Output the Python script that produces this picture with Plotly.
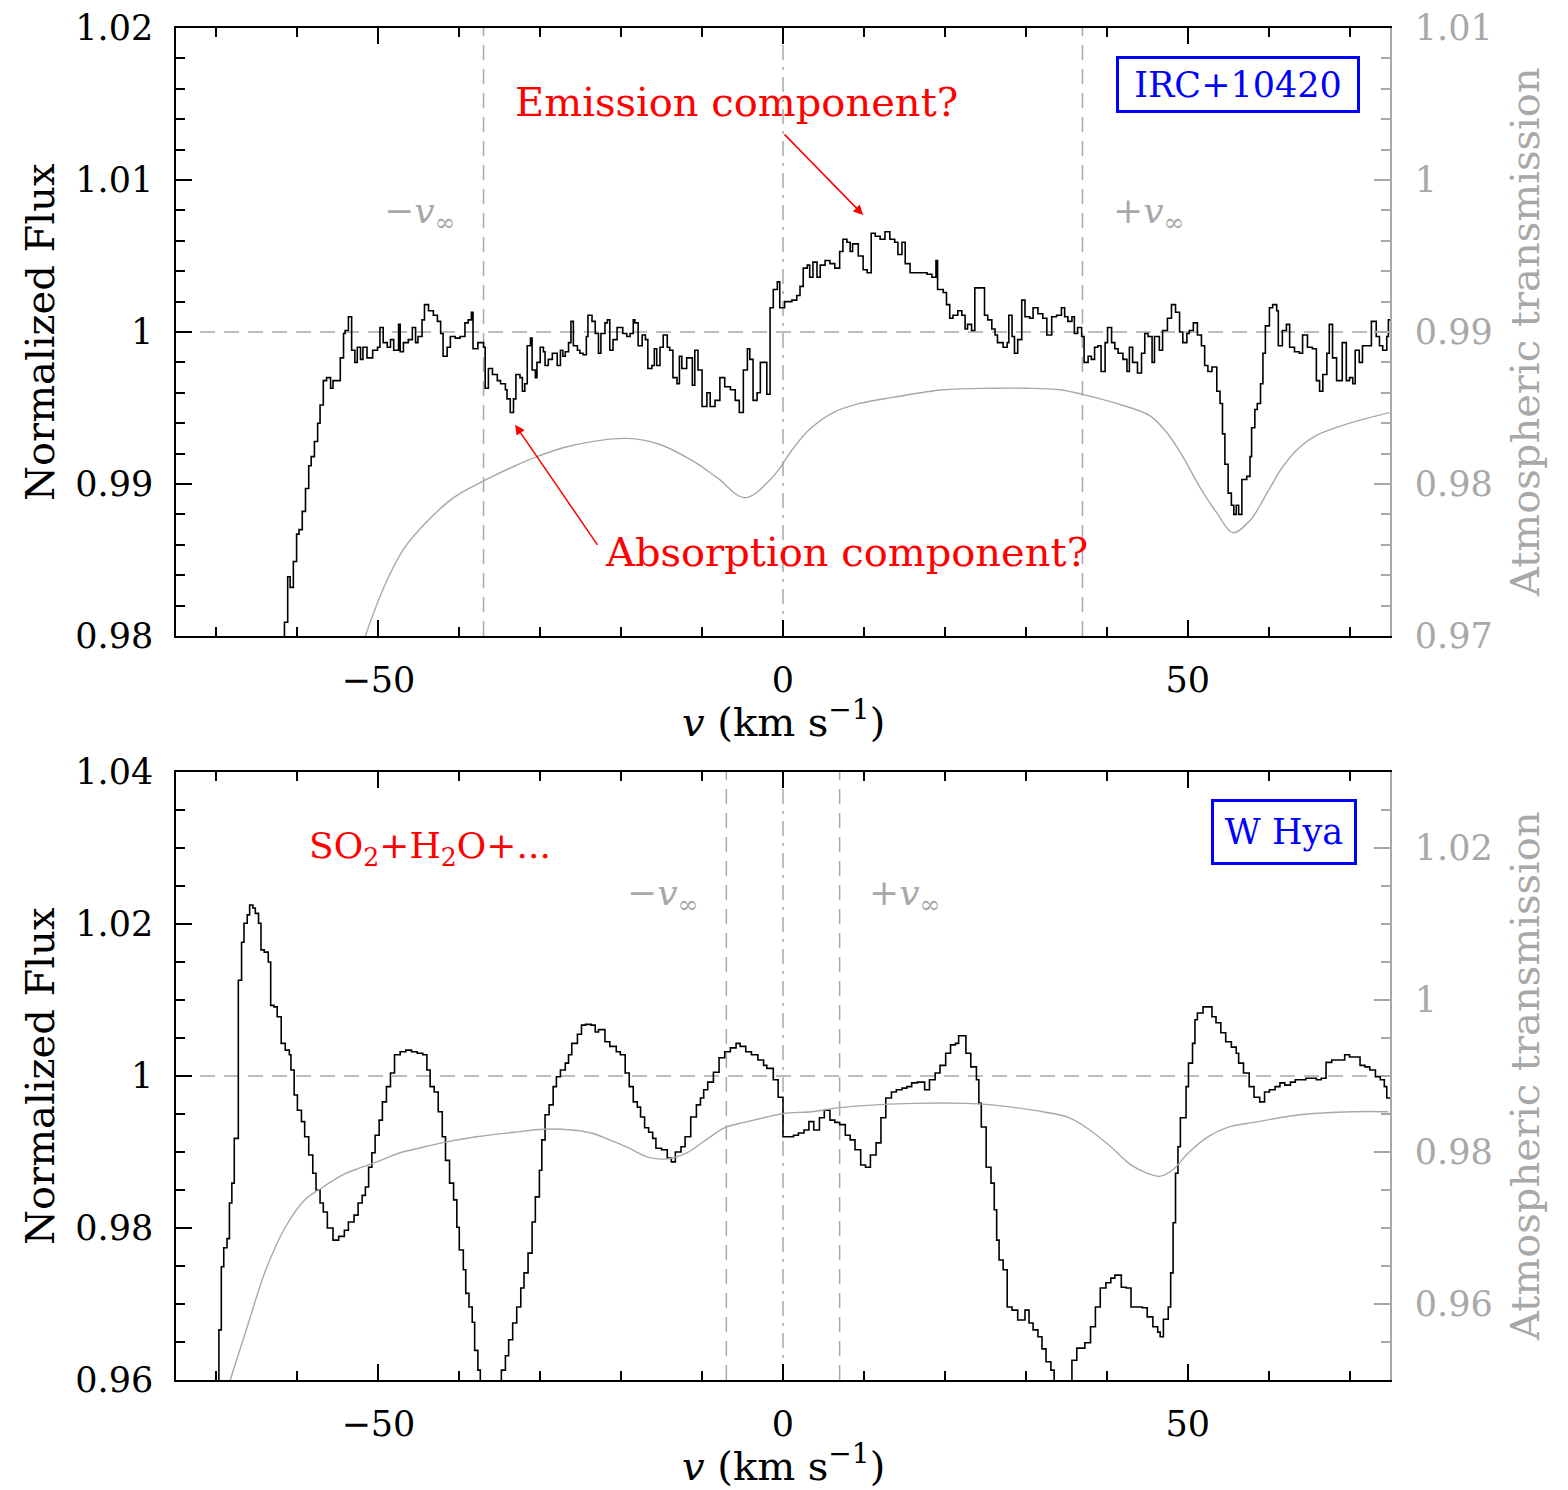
import plotly.graph_objects as go

# ---------------- data ----------------
# IRC+10420 normalized flux (step spectrum)
irc_v = [-62.0,-61.6,-61.2,-60.9,-60.5,-60.1,-59.8,-59.4,-59.0,-58.6,-58.3,-57.9,-57.5,-57.2,-56.8,-56.4,-55.9,-55.6,
         -54.7,-54.3,-54.1,-53.7,-53.3,-52.9,-52.6,-52.2,-51.9,-51.4,-50.7,-50.1,-49.8,-49.4,-48.9,-48.5,-48.1,-47.5,
         -47.3,-46.9,-46.3,-45.8,-45.4,-45.1,-44.6,-44.3,-43.8,-43.2,-42.7,-42.3,-42.0,-41.5,-41.1,-40.5,-39.9,-39.3,
         -38.9,-38.5,-38.3,-37.7,-37.0,-36.8,-36.4,-35.9,-35.3,-34.9,-34.3,-34.1,-33.7,-33.3,-33.0,-32.5,-32.2,-31.9,
         -31.6,-31.2,-31.0,-30.6,-30.4,-30.0,-29.6,-29.4,-29.0,-28.5,-28.1,-27.9,-27.5,-27.2,-26.9,-26.5,-26.2,-25.9,
         -25.4,-25.1,-24.7,-24.3,-24.1,-23.6,-23.2,-22.8,-22.5,-22.0,-21.7,-21.4,-21.0,-20.5,-20.1,-19.8,-19.3,-18.9,
         -18.5,-18.3,-17.9,-17.4,-17.0,-16.7,-16.2,-15.9,-15.6,-15.2,-14.8,-14.3,-14.0,-13.6,-13.1,-12.8,-12.5,-11.9,
         -11.2,-10.9,-10.5,-10.0,-9.4,-9.0,-8.4,-7.8,-7.2,-6.5,-5.9,-5.4,-4.9,-4.4,-4.1,-3.7,-3.2,-2.8,-2.3,-2.0,
         -1.6,-1.2,-0.7,-0.4,0.2,1.1,1.7,2.1,2.5,3.0,3.3,3.7,4.2,4.6,5.2,5.8,6.4,7.0,7.4,7.9,8.3,8.6,9.3,9.9,10.4,
         10.9,11.4,12.0,12.6,13.2,13.8,14.2,14.7,15.1,15.7,16.5,17.2,17.8,18.4,18.9,19.1,19.8,20.2,20.6,21.0,21.6,
         22.1,22.5,22.8,23.3,23.7,24.9,25.3,25.8,26.2,26.5,27.2,27.7,27.9,28.3,28.6,29.0,29.5,29.9,30.5,30.9,31.5,
         32.1,32.6,33.2,33.8,34.4,34.8,35.2,35.7,36.0,36.4,36.9,37.2,37.7,38.1,38.5,38.9,39.3,39.8,40.1,40.6,41.0,
         41.4,42.0,42.5,42.8,43.2,43.8,44.3,44.7,45.1,45.6,45.9,46.5,46.9,47.5,48.0,48.5,49.0,49.4,49.9,50.2,50.7,
         51.2,51.7,52.1,52.5,53.0,53.6,54.0,54.3,54.6,55.0,55.4,55.7,56.0,56.3,56.7,57.3,57.7,57.9,58.3,58.6,59.0,
         59.3,59.6,60.1,60.5,61.0,61.2,61.7,62.2,62.6,63.2,63.8,64.2,64.8,65.4,65.9,66.3,66.7,67.2,67.5,67.9,68.4,
         68.8,69.1,69.6,70.0,70.4,70.7,71.2,71.6,72.2,72.7,73.3,73.7,74.1,74.6,74.8,75.0]
irc_flux = [0.9750,0.9809,0.9839,0.9832,0.9849,0.9867,0.9870,0.9882,0.9897,0.9912,0.9918,0.9928,0.9940,0.9952,0.9968,0.9970,0.9963,0.9968,
            0.9983,0.9999,1.0001,1.0010,0.9988,0.9980,0.9990,0.9982,0.9990,0.9983,0.9988,0.9990,1.0003,0.9993,0.9990,0.9995,0.9988,1.0005,
            0.9987,0.9993,0.9995,1.0003,0.9993,0.9997,1.0008,1.0018,1.0014,1.0011,1.0007,0.9999,0.9984,0.9990,0.9997,0.9996,0.9997,1.0006,
            1.0008,1.0013,0.9989,0.9993,0.9990,0.9963,0.9976,0.9972,0.9968,0.9966,0.9962,0.9956,0.9947,0.9956,0.9972,0.9970,0.9961,0.9966,
            0.9991,0.9996,0.9975,0.9970,0.9980,0.9990,0.9987,0.9978,0.9982,0.9986,0.9986,0.9978,0.9988,0.9984,0.9987,0.9993,1.0007,0.9991,
            0.9988,0.9986,0.9985,0.9997,1.0011,1.0007,0.9999,0.9986,0.9999,1.0006,1.0008,0.9988,0.9995,1.0003,1.0003,0.9999,0.9997,0.9999,
            1.0008,1.0006,0.9991,0.9998,0.9995,0.9976,0.9978,0.9989,0.9978,0.9990,0.9998,0.9990,0.9988,0.9970,0.9966,0.9984,0.9976,0.9983,
            0.9965,0.9988,0.9975,0.9951,0.9960,0.9951,0.9955,0.9970,0.9964,0.9962,0.9955,0.9947,0.9975,0.9989,0.9982,0.9955,0.9960,0.9980,0.9980,0.9959,
            1.0016,1.0028,1.0033,1.0016,1.0020,1.0021,1.0024,1.0030,1.0042,1.0044,1.0036,1.0046,1.0036,1.0044,1.0047,1.0045,1.0042,1.0053,1.0061,1.0059,1.0053,1.0058,1.0050,1.0041,1.0039,
            1.0065,1.0063,1.0061,1.0066,1.0061,1.0059,1.0051,1.0059,1.0045,1.0039,1.0039,1.0039,1.0038,1.0036,1.0047,1.0028,1.0026,1.0018,1.0009,1.0011,1.0014,
            1.0011,1.0002,1.0005,1.0001,1.0029,1.0011,1.0008,1.0002,0.9998,0.9993,0.9990,0.9993,1.0011,0.9997,0.9986,0.9995,1.0021,1.0010,1.0009,1.0016,1.0012,
            1.0009,0.9998,1.0010,1.0011,1.0016,1.0010,1.0007,1.0010,0.9999,1.0003,0.9997,0.9980,0.9984,0.9982,0.9990,0.9991,0.9974,0.9993,1.0003,0.9993,0.9989,
            0.9986,0.9982,0.9974,0.9990,0.9980,0.9973,0.9986,0.9999,0.9997,0.9980,0.9997,0.9988,1.0001,1.0009,1.0018,1.0013,1.0000,0.9993,0.9999,1.0001,1.0006,
            0.9998,0.9991,0.9978,0.9974,0.9977,0.9961,0.9953,0.9933,0.9913,0.9894,0.9886,0.9880,0.9886,0.9880,0.9903,0.9905,0.9918,0.9937,0.9949,0.9953,0.9966,
            0.9986,1.0004,1.0016,1.0018,1.0014,0.9991,1.0001,1.0005,0.9990,0.9987,0.9986,0.9998,0.9990,0.9989,0.9968,0.9961,0.9972,0.9986,1.0005,0.9983,0.9968,
            0.9968,0.9993,0.9968,0.9970,0.9966,0.9988,0.9980,0.9991,0.9991,1.0007,0.9997,0.9991,0.9988,0.9997,1.0008,1.0008]

# IRC+10420 atmospheric transmission
irc_atm_v = [-51.6,-50.6,-48.9,-46.9,-44.4,-40.7,-37.0,-33.5,-30.4,-26.3,-19.3,-15.2,-11.1,-8.1,-4.7,-1.2,1.2,3.3,6.2,9.5,13.6,
             19.8,25.9,30.1,34.2,37.0,41.2,45.3,47.4,49.4,51.5,53.6,55.6,57.7,59.8,61.7,63.8,65.9,70.0,74.9]
irc_atm_t = [0.9700,0.9715,0.9737,0.9757,0.9773,0.9791,0.9802,0.9811,0.9818,0.9825,0.9830,0.9826,0.9815,0.9804,0.9791,0.9805,0.9823,
             0.9836,0.9847,0.9853,0.9857,0.9862,0.9863,0.9863,0.9862,0.9859,0.9853,0.9845,0.9834,0.9818,0.9798,0.9781,
             0.9768,0.9776,0.9794,0.9811,0.9824,0.9832,0.9840,0.9847]

# W Hya normalized flux (step spectrum)
why_v = [-70.1,-69.7,-69.4,-69.1,-68.7,-68.4,-68.1,-67.8,-67.3,-66.9,-66.6,-66.2,-65.9,-65.5,-65.2,-64.8,-64.5,-64.1,
         -63.6,-63.3,-62.9,-62.5,-62.0,-61.5,-61.0,-60.8,-60.4,-60.0,-59.5,-59.1,-58.6,-58.1,-57.7,-57.2,-56.8,-56.3,
         -55.6,-54.9,-54.2,-53.7,-53.0,-52.5,-52.0,-51.6,-51.2,-50.8,-50.4,-49.9,-49.5,-49.0,-48.5,-48.0,-47.3,-46.6,
         -45.9,-45.2,-44.5,-44.0,-43.6,-43.1,-42.6,-42.1,-41.7,-41.2,-40.7,-40.3,-40.0,-39.5,-39.2,-38.8,-38.4,-38.1,
         -37.7,-37.4,-36.8,-36.0,-35.4,-34.8,-34.3,-33.9,-33.4,-32.9,-32.4,-32.0,-31.5,-31.0,-30.6,-30.1,-29.8,-29.4,
         -28.9,-28.4,-28.0,-27.5,-26.9,-26.5,-26.1,-25.4,-24.9,-24.4,-23.7,-23.2,-22.8,-22.0,-21.4,-20.6,-20.1,-19.5,
         -19.0,-18.5,-18.0,-17.6,-17.1,-16.6,-16.1,-15.7,-15.0,-14.3,-13.8,-13.3,-12.6,-12.1,-11.4,-10.7,-10.2,-9.8,
         -9.3,-8.6,-7.9,-7.2,-6.5,-5.8,-5.3,-4.6,-3.9,-3.1,-2.4,-2.0,-1.2,-0.6,0.0,0.6,1.3,1.9,2.6,3.2,3.8,4.5,5.1,
         5.8,6.4,7.0,7.7,8.3,8.9,9.6,10.2,10.8,11.5,12.1,12.7,13.4,14.0,14.7,15.3,15.9,16.6,17.5,18.1,18.8,19.4,20.1,
         20.7,21.3,21.7,22.6,23.2,23.9,24.2,24.5,25.1,25.7,26.1,26.4,26.7,27.2,27.7,28.3,29.0,29.9,30.4,30.9,31.5,32.0,
         32.5,33.1,33.5,34.2,35.0,35.7,36.3,37.3,38.0,38.6,39.2,39.9,40.5,41.0,41.8,42.4,43.0,43.7,44.4,45.0,45.7,46.3,
         46.6,47.0,47.6,47.9,48.2,48.5,48.8,49.1,49.8,50.1,50.6,50.9,51.2,51.9,52.5,53.0,53.5,54.1,54.7,55.4,56.0,56.3,
         56.9,57.6,58.2,58.9,59.5,60.1,60.8,61.4,62.0,62.7,63.3,64.0,64.6,65.2,65.9,66.5,67.1,67.8,68.4,69.4,70.0,70.6,
         71.3,71.9,72.5,73.2,73.8,74.3,74.6,75.0]
why_flux = [0.9550,0.9666,0.9749,0.9774,0.9786,0.9833,0.9859,0.9918,1.0126,1.0176,1.0201,1.0212,1.0225,1.0221,1.0214,1.0201,1.0166,1.0163,
            1.0150,1.0093,1.0091,1.0078,1.0043,1.0034,1.0028,1.0008,0.9975,0.9955,0.9940,0.9920,0.9896,0.9872,0.9850,0.9833,0.9821,0.9800,
            0.9784,0.9789,0.9797,0.9808,0.9817,0.9833,0.9843,0.9854,0.9880,0.9899,0.9922,0.9942,0.9966,0.9986,1.0004,1.0028,1.0032,1.0034,
            1.0032,1.0030,1.0028,1.0008,0.9986,0.9979,0.9953,0.9920,0.9889,0.9859,0.9837,0.9801,0.9771,0.9745,0.9714,0.9696,0.9676,0.9639,
            0.9613,0.9590,0.9570,0.9560,0.9575,0.9613,0.9632,0.9653,0.9675,0.9696,0.9721,0.9741,0.9767,0.9808,0.9841,0.9876,0.9916,0.9949,
            0.9962,0.9986,0.9999,1.0008,1.0017,1.0028,1.0043,1.0055,1.0067,1.0068,1.0067,1.0058,1.0061,1.0045,1.0039,1.0032,1.0028,1.0004,
            0.9986,0.9966,0.9959,0.9946,0.9932,0.9926,0.9918,0.9905,0.9903,0.9892,0.9887,0.9900,0.9907,0.9920,0.9946,0.9962,0.9971,0.9982,
            0.9992,1.0005,1.0024,1.0032,1.0037,1.0043,1.0039,1.0032,1.0028,1.0021,1.0014,1.0010,0.9995,0.9972,0.9920,0.9920,0.9922,0.9925,0.9929,0.9940,0.9929,0.9945,0.9955,
            0.9942,0.9939,0.9936,0.9922,0.9916,0.9903,0.9883,0.9880,0.9896,0.9912,0.9945,0.9971,0.9979,0.9982,0.9984,0.9986,0.9991,0.9992,0.9982,0.9995,1.0004,1.0014,1.0030,
            1.0041,1.0043,1.0053,1.0030,1.0012,0.9995,0.9964,0.9933,0.9880,0.9859,0.9824,0.9784,0.9758,0.9745,0.9696,0.9692,0.9679,0.9692,0.9675,0.9666,0.9657,0.9641,
            0.9624,0.9613,0.9590,0.9575,0.9595,0.9626,0.9642,0.9649,0.9670,0.9696,0.9721,0.9728,0.9734,0.9738,0.9722,0.9721,0.9696,0.9696,0.9695,0.9683,0.9670,0.9663,
            0.9657,0.9680,0.9696,0.9741,0.9807,0.9872,0.9907,0.9945,0.9986,1.0017,1.0043,1.0074,1.0083,1.0091,1.0091,1.0078,1.0070,1.0057,1.0045,1.0038,1.0030,1.0017,
            1.0004,0.9986,0.9972,0.9966,0.9979,0.9982,0.9986,0.9991,0.9988,0.9992,0.9995,0.9995,0.9997,0.9997,0.9995,0.9997,1.0018,1.0021,1.0021,1.0028,1.0025,1.0025,
            1.0014,1.0012,1.0008,0.9999,0.9995,0.9986,0.9971,0.9971]

# W Hya atmospheric transmission
why_atm_v = [-68.3,-66.2,-63.9,-61.5,-59.1,-56.8,-54.4,-52.0,-49.7,-47.3,-45.0,-42.6,-37.9,-33.2,-29.6,-26.1,-23.7,
             -21.4,-19.0,-16.6,-14.3,-11.9,-9.5,-7.2,-4.8,-2.0,0.3,3.5,6.7,9.9,16.2,22.6,25.8,29.0,32.1,35.4,37.9,
             40.5,43.0,45.0,46.5,48.1,50.1,52.5,55.1,58.2,63.9,70.3,74.8]
why_atm_t = [0.9500,0.9570,0.9645,0.9701,0.9737,0.9754,0.9770,0.9780,0.9789,0.9799,0.9805,0.9811,0.9820,0.9826,0.9830,
             0.9829,0.9825,0.9816,0.9805,0.9793,0.9791,0.9799,0.9816,0.9832,0.9839,0.9846,0.9851,0.9853,0.9858,0.9861,
             0.9864,0.9864,0.9862,0.9858,0.9853,0.9845,0.9829,0.9807,0.9783,0.9772,0.9768,0.9776,0.9799,0.9820,0.9833,
             0.9839,0.9849,0.9853,0.9853]

x_ticks = [-50, 0, 50]
x_ticktext = ["\u221250", "0", "50"]
top_left_ticks = [0.98, 0.99, 1.0, 1.01, 1.02]
top_left_text = ["0.98", "0.99", "1", "1.01", "1.02"]
top_right_ticks = [0.97, 0.98, 0.99, 1.0, 1.01]
top_right_text = ["0.97", "0.98", "0.99", "1", "1.01"]
bot_left_ticks = [0.96, 0.98, 1.0, 1.02, 1.04]
bot_left_text = ["0.96", "0.98", "1", "1.02", "1.04"]
bot_right_ticks = [0.96, 0.98, 1.0, 1.02]
bot_right_text = ["0.96", "0.98", "1", "1.02"]
v_inf_irc = 37.0
v_inf_why = 7.0

# ---------------- styling ----------------
FONT = "DejaVu Serif"
GRAY = "#a8a8a8"
TICKSIZE = 35
TITLESIZE = 40

fig = go.Figure()
fig.add_trace(go.Scatter(x=irc_v, y=irc_flux, mode="lines", line=dict(color="black", width=1.6, shape="hv"),
                         xaxis="x", yaxis="y", showlegend=False))
fig.add_trace(go.Scatter(x=irc_atm_v, y=irc_atm_t, mode="lines", line=dict(color=GRAY, width=1.4, shape="spline"),
                         xaxis="x", yaxis="y2", showlegend=False))
fig.add_trace(go.Scatter(x=why_v, y=why_flux, mode="lines", line=dict(color="black", width=1.6, shape="hv"),
                         xaxis="x2", yaxis="y3", showlegend=False))
fig.add_trace(go.Scatter(x=why_atm_v, y=why_atm_t, mode="lines", line=dict(color=GRAY, width=1.4, shape="spline"),
                         xaxis="x2", yaxis="y4", showlegend=False))

def xax(anchor):
    return dict(domain=[0, 1], anchor=anchor, range=[-75, 75], tickvals=x_ticks, ticktext=x_ticktext,
                ticks="inside", ticklen=16, tickwidth=1.5, tickcolor="black",
                minor=dict(dtick=10, tick0=0, ticks="inside", ticklen=9, tickwidth=1.5, tickcolor="black"),
                showline=True, linecolor="black", linewidth=1.5, mirror="ticks",
                showgrid=False, zeroline=False, ticklabelstandoff=12, automargin=False,
                tickfont=dict(family=FONT, size=TICKSIZE, color="black"))

def yax(domain, rng, tv, tt, minor_dt):
    return dict(domain=domain, range=rng, tickvals=tv, ticktext=tt,
                ticks="inside", ticklen=16, tickwidth=1.5, tickcolor="black",
                minor=dict(dtick=minor_dt, tick0=rng[0], ticks="inside", ticklen=9, tickwidth=1.5, tickcolor="black"),
                showline=True, linecolor="black", linewidth=1.5, mirror=False,
                showgrid=False, zeroline=False, ticklabelstandoff=14, automargin=False,
                tickfont=dict(family=FONT, size=TICKSIZE, color="black"))

def yax_r(over, anchor, rng, tv, tt, minor_dt):
    return dict(overlaying=over, anchor=anchor, side="right", range=rng, tickvals=tv, ticktext=tt,
                ticks="inside", ticklen=16, tickwidth=1.5, tickcolor=GRAY,
                minor=dict(dtick=minor_dt, tick0=rng[0], ticks="inside", ticklen=9, tickwidth=1.5, tickcolor=GRAY),
                showline=True, linecolor=GRAY, linewidth=1.5,
                showgrid=False, zeroline=False, ticklabelstandoff=16, automargin=False,
                tickfont=dict(family=FONT, size=TICKSIZE, color=GRAY))

top_dom = [0.5503, 1.0]
bot_dom = [0.0, 0.4497]

fig.update_layout(
    width=1568, height=1490,
    margin=dict(l=176, r=178, t=28, b=110),
    paper_bgcolor="white", plot_bgcolor="white",
    font=dict(family=FONT, size=TITLESIZE, color="black"),
    xaxis=xax("y"),
    xaxis2=xax("y3"),
    yaxis=yax(top_dom, [0.98, 1.02], top_left_ticks, top_left_text, 0.002),
    yaxis2=yax_r("y", "x", [0.97, 1.01], top_right_ticks, top_right_text, 0.002),
    yaxis3=yax(bot_dom, [0.96, 1.04], bot_left_ticks, bot_left_text, 0.005),
    yaxis4=yax_r("y3", "x2", [0.95, 1.03], bot_right_ticks, bot_right_text, 0.005),
)

dash = "15px,9px"
dashdot = "15px,7px,3px,7px"
shapes = []
for xr, yr, vinf in (("x", "y", v_inf_irc), ("x2", "y3", v_inf_why)):
    shapes.append(dict(type="line", xref=xr + " domain", yref=yr, x0=0, x1=1, y0=1.0, y1=1.0,
                       line=dict(color=GRAY, width=1.5, dash=dash), layer="below"))
    for xv in (-vinf, vinf):
        shapes.append(dict(type="line", xref=xr, yref=yr + " domain", x0=xv, x1=xv, y0=0, y1=1,
                           line=dict(color=GRAY, width=1.5, dash=dash), layer="below"))
    shapes.append(dict(type="line", xref=xr, yref=yr + " domain", x0=0, x1=0, y0=0, y1=1,
                       line=dict(color=GRAY, width=1.5, dash=dashdot), layer="below"))
fig.update_layout(shapes=shapes)

vinf_minus = "\u2212<i>v</i><sub>\u221e</sub>"
vinf_plus = "+<i>v</i><sub>\u221e</sub>"
xtitle = "<i>v</i> (km s<sup>\u22121</sup>)"

ann = []
for xr, yr in (("x", "y"), ("x2", "y3")):
    ann.append(dict(text="Normalized Flux", xref="paper", yref=yr + " domain", x=-0.112, y=0.5,
                    xanchor="center", yanchor="middle",
                    textangle=-90, showarrow=False, font=dict(size=TITLESIZE, color="black")))
    ann.append(dict(text="Atmospheric transmission", xref="paper", yref=yr + " domain", x=1.1112, y=0.5,
                    xanchor="center", yanchor="middle",
                    textangle=-90, showarrow=False, font=dict(size=TITLESIZE, color=GRAY)))
    ann.append(dict(text=xtitle, xref=xr, yref=yr + " domain", x=0, y=-0.137, showarrow=False,
                    xanchor="center", yanchor="middle",
                    font=dict(size=TITLESIZE, color="black")))

# top panel labels
ann += [
    dict(text=vinf_minus, xref="x", yref="y", x=-44.8, y=1.0078, showarrow=False, font=dict(size=36, color=GRAY)),
    dict(text=vinf_plus, xref="x", yref="y", x=45.2, y=1.0078, showarrow=False, font=dict(size=36, color=GRAY)),
    dict(text="Emission component?", xref="x", yref="y", x=-5.7, y=1.0151, showarrow=False,
         font=dict(size=TITLESIZE, color="red")),
    dict(text="", xref="x", yref="y", x=9.9, y=1.0077, axref="x", ayref="y", ax=0.0, ay=1.0131,
         showarrow=True, arrowhead=2, arrowsize=1.3, arrowwidth=1.5, arrowcolor="red"),
    dict(text="Absorption component?", xref="x", yref="y", x=7.8, y=0.9855, showarrow=False,
         font=dict(size=TITLESIZE, color="red")),
    dict(text="", xref="x", yref="y", x=-33.1, y=0.9939, axref="x", ayref="y", ax=-22.8, ay=0.9859,
         showarrow=True, arrowhead=2, arrowsize=1.3, arrowwidth=1.5, arrowcolor="red"),
    dict(text="IRC+10420", xref="x", yref="y", x=56.2, y=1.0163, showarrow=False,
         font=dict(size=35, color="blue"), bordercolor="blue", borderwidth=3, borderpad=2,
         width=234, height=47),
]
# bottom panel labels
ann += [
    dict(text=vinf_minus, xref="x2", yref="y3", x=-14.8, y=1.0238, showarrow=False, font=dict(size=36, color=GRAY)),
    dict(text=vinf_plus, xref="x2", yref="y3", x=15.1, y=1.0238, showarrow=False, font=dict(size=36, color=GRAY)),
    dict(text="SO<sub>2</sub>+H<sub>2</sub>O+...", xref="x2", yref="y3", x=-43.6, y=1.030, showarrow=False,
         font=dict(size=36, color="red")),
    dict(text="W Hya", xref="x2", yref="y3", x=61.9, y=1.0321, showarrow=False,
         font=dict(size=35, color="blue"), bordercolor="blue", borderwidth=3, borderpad=2,
         width=136, height=56),
]
fig.update_layout(annotations=ann)

# remove the default 8px page margin so the figure sits at the window's top-left corner; hide the mode bar
fig.write_html("out.html", config={"displayModeBar": False},
               post_script="document.body.style.margin='0';document.body.style.overflow='hidden';")
